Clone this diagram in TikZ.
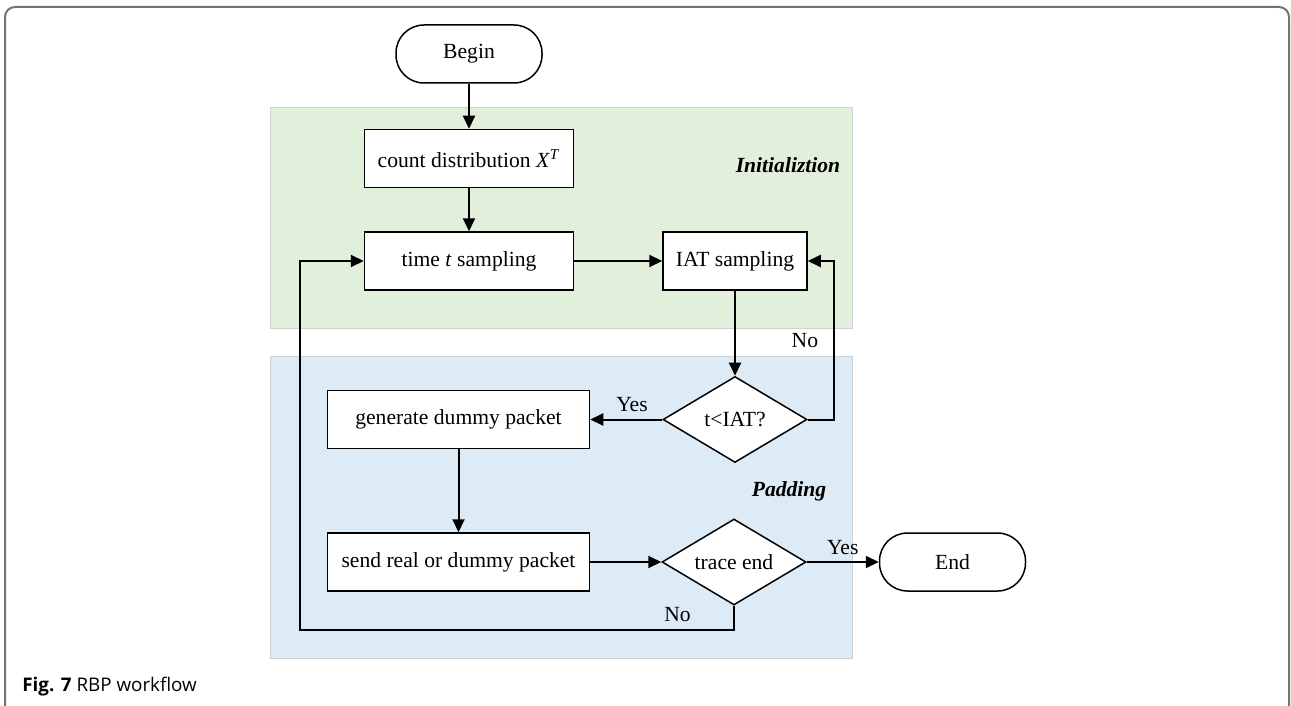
\documentclass[tikz,border=0pt]{standalone}
\usepackage{fontspec}
\setmainfont{Liberation Serif}
\newfontfamily\captionfont{Open Sans}
\usetikzlibrary{positioning, shapes.geometric, arrows.meta}

\definecolor{initGreen}{HTML}{E2EFDA}
\definecolor{padBlue}{HTML}{DDEBF7}

\begin{document}
\begin{tikzpicture}[
    x=0.5pt, y=-0.5pt,
    font=\fontsize{10.8}{13}\selectfont,
    process/.style={rectangle, draw, line width=0.75pt, fill=white, align=center, minimum height=29pt, inner sep=2pt},
    terminal/.style={rectangle, draw, line width=0.75pt, fill=white, rounded corners=14pt, minimum width=73pt, minimum height=29pt},
    decision/.style={diamond, draw, line width=0.75pt, fill=white, aspect=1.66, minimum width=72pt, minimum height=43pt, inner sep=1pt},
    flow/.style={draw, line width=1pt, -{Triangle[length=6.5pt, width=6pt]}},
    region/.style={draw=black!18, line width=0.5pt},
    tag/.style={font=\fontsize{10.8}{13}\selectfont\bfseries\itshape}]

  \useasboundingbox (0,0) rectangle (1291,706);
  \draw[black!55, line width=1pt, rounded corners=5pt] (5,720) -- (5,7) -- (1289,7) -- (1289,720);

  % stages
  \path[fill=initGreen, region] (270,108) rectangle (852,328);
  \path[fill=padBlue, region] (270,356) rectangle (852,658);
  \node[tag] (initlabel) at (788,165) {Initializtion};
  \node[tag] (padlabel) at (789,491) {Padding};

  \node[terminal] (begin) at (469,54) {Begin};
  \node[process, minimum width=104.5pt, below=22.5pt of begin] (count) {count distribution \textit{X}\textsuperscript{\textit{T}}};
  \node[process, minimum width=104.5pt, below=21.5pt of count] (time) {time \textit{t} sampling};
  \node[process, minimum width=72pt, right=44pt of time] (iat) {IAT sampling};
  \node[decision, below=42.5pt of iat] (test) {t<IAT?};
  \node[process, minimum width=131pt, left=36pt of test] (dummy) {generate dummy packet};
  \node[process, minimum width=131pt, below=41.5pt of dummy] (send) {send real or dummy packet};
  \node[decision, right=35.5pt of send] (trace) {trace end};
  \node[terminal, right=36pt of trace] (finish) {End};

  \draw[flow] (begin) -- (count);
  \draw[flow] (count) -- (time);
  \draw[flow] (time) -- (iat);
  \draw[flow] (iat) -- (test);
  \draw[flow] (test) -- node[pos=0.42, above] {Yes} (dummy);
  \draw[flow] (test.east) -- ++(13pt,0) |- node[pos=0.25, left=4pt] {No} (iat.east);
  \draw[flow] (dummy) -- (send);
  \draw[flow] (send) -- (trace);
  \draw[flow] (trace) -- node[above] {Yes} (finish);
  \draw[flow] (trace.south) -- ++(0,-12pt) -| node[pos=0.065, above] {No} ([xshift=-32pt]time.west) -- (time.west);

  \node[anchor=base west, inner sep=0pt, font=\captionfont\fontsize{9.4}{11}\selectfont] (caption) at (22,691) {\textbf{Fig. 7} RBP workflow};
\end{tikzpicture}
\end{document}
